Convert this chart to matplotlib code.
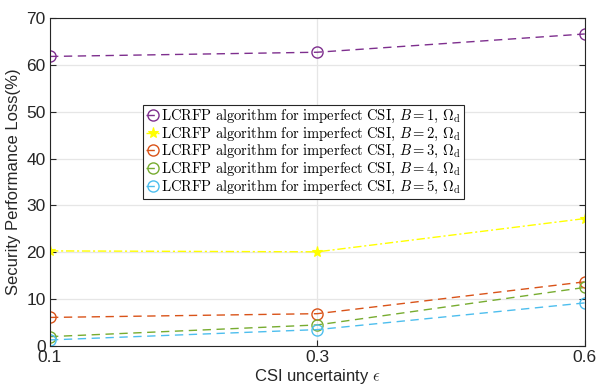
import numpy as np
import matplotlib.pyplot as plt

plt.rcParams['font.family'] = ['Liberation Sans', 'DejaVu Sans']
plt.rcParams['mathtext.fontset'] = 'cm'

# CSI uncertainty levels (equally spaced on the axis)
eps_labels = ["0.1", "0.3", "0.6"]

# Security performance loss (%) for each B
loss_b1 = [61.8, 62.7, 66.6]
loss_b2 = [20.3, 20.1, 27.2]
loss_b3 = [6.1, 6.9, 13.7]
loss_b4 = [2.0, 4.5, 12.5]
loss_b5 = [1.3, 3.5, 9.2]

dash = (0, (6, 4))
series = [
    (loss_b1, 1, "#7E2F8E", "o", dash),
    (loss_b2, 2, "#FFFF00", "*", (0, (6, 2, 1.5, 2))),
    (loss_b3, 3, "#D95319", "o", dash),
    (loss_b4, 4, "#77AC30", "o", dash),
    (loss_b5, 5, "#4DBEEE", "o", dash),
]

fig = plt.figure(figsize=(6.06, 3.86), dpi=100)
ax = fig.add_axes([0.0825, 0.1036, 0.8825, 0.8497])

x = np.arange(len(eps_labels))
for vals, b, col, mk, ls in series:
    label = (r"$\mathrm{LCRFP\ algorithm\ for\ imperfect\ CSI,}\,B=%d,\,\Omega_{\mathrm{d}}$" % b)
    if mk == "*":
        ax.plot(x, vals, color=col, linestyle=ls, linewidth=1.0, marker=mk,
                markersize=8, markeredgewidth=0.8, label=label)
    else:
        ax.plot(x, vals, color=col, linestyle=ls, linewidth=1.0, marker=mk,
                markersize=8, markerfacecolor="none", markeredgewidth=1.0,
                label=label)

ax.set_xlim(0, 2)
ax.set_ylim(0, 70)
ax.set_xticks(x)
ax.set_xticklabels(eps_labels)
ax.set_yticks(np.arange(0, 71, 10))
ax.tick_params(axis="both", direction="in", labelsize=12.5, length=4,
               color="#262626", labelcolor="#262626", pad=3, right=True, top=False)
ax.grid(True, color="#E6E6E6", linewidth=0.9)
ax.set_axisbelow(True)
for s in ax.spines.values():
    s.set_color("#262626")
    s.set_linewidth(0.8)

ax.set_ylabel("Security Performance Loss(%)", fontsize=12, color="#262626", labelpad=4)
ax.set_xlabel(r"CSI uncertainty $\epsilon$", fontsize=12, color="#262626", labelpad=1)

leg = ax.legend(loc="upper left", bbox_to_anchor=(0.174, 0.735), borderaxespad=0,
                fontsize=10.5, handlelength=0.9, handletextpad=0.1,
                labelspacing=0.04, borderpad=0.2, fancybox=False, framealpha=1)
leg.get_frame().set_edgecolor("#262626")
leg.get_frame().set_linewidth(0.8)

fig.savefig("out.png", dpi=100)
